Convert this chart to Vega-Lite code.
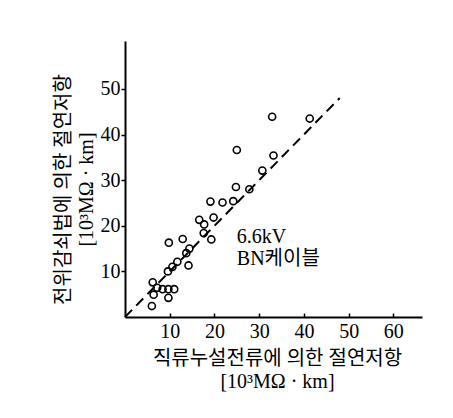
{
  "$schema": "https://vega.github.io/schema/vega-lite/v6.json",
  "width": 297,
  "height": 276,
  "autosize": {"type": "none"},
  "padding": {"left": 125, "top": 41, "right": 31, "bottom": 101},
  "background": "white",
  "config": {
    "view": {"stroke": null},
    "font": "Liberation Serif, Noto Sans CJK KR",
    "axis": {
      "grid": false,
      "domainColor": "black",
      "domainWidth": 2,
      "tickColor": "black",
      "tickWidth": 1.5,
      "labelColor": "black",
      "titleColor": "black",
      "labelFont": "Liberation Serif",
      "labelFontSize": 20,
      "titleFont": "Liberation Serif, Noto Sans CJK KR",
      "titleFontSize": 20,
      "titleFontWeight": "normal",
      "titleLineHeight": 23
    }
  },
  "datasets": {
    "pts": [
      {"dc": 6.0, "pd": 2.4},
      {"dc": 6.4, "pd": 4.9},
      {"dc": 6.2, "pd": 7.6},
      {"dc": 7.2, "pd": 6.4},
      {"dc": 8.4, "pd": 6.1},
      {"dc": 9.7, "pd": 6.1},
      {"dc": 11.0, "pd": 6.1},
      {"dc": 9.7, "pd": 4.2},
      {"dc": 9.6, "pd": 10.0},
      {"dc": 10.6, "pd": 11.0},
      {"dc": 11.7, "pd": 12.1},
      {"dc": 9.8, "pd": 16.3},
      {"dc": 12.9, "pd": 17.1},
      {"dc": 13.7, "pd": 14.0},
      {"dc": 14.4, "pd": 15.0},
      {"dc": 14.2, "pd": 11.3},
      {"dc": 16.6, "pd": 21.3},
      {"dc": 17.7, "pd": 20.3},
      {"dc": 17.6, "pd": 18.4},
      {"dc": 19.3, "pd": 17.0},
      {"dc": 19.8, "pd": 21.8},
      {"dc": 19.1, "pd": 25.3},
      {"dc": 21.8, "pd": 25.1},
      {"dc": 24.2, "pd": 25.4},
      {"dc": 24.8, "pd": 28.5},
      {"dc": 27.8, "pd": 28.0},
      {"dc": 30.7, "pd": 32.1},
      {"dc": 33.2, "pd": 35.4},
      {"dc": 25.0, "pd": 36.6},
      {"dc": 32.9, "pd": 43.9},
      {"dc": 41.3, "pd": 43.5}
    ],
    "fit": [
      {"dc": 0, "pd": 0},
      {"dc": 48, "pd": 48}
    ],
    "note": [
      {"dc": 25.0, "pd": 16.2, "label": ["6.6kV", "BN케이블"]}
    ]
  },
  "layer": [
    {
      "data": {"name": "fit"},
      "mark": {"type": "line", "color": "black", "strokeWidth": 2, "strokeDash": [10, 6], "clip": false},
      "encoding": {
        "x": {
          "field": "dc", "type": "quantitative",
          "scale": {"domain": [0, 66.4], "nice": false, "zero": false},
          "axis": {
            "values": [10, 20, 30, 40, 50, 60],
            "tickSize": -4,
            "labelPadding": 24,
            "labelBaseline": "alphabetic",
            "title": ["직류누설전류에 의한 절연저항", "[10³MΩ · km]"],
            "titleX": 152,
            "titleY": 47,
            "titleAlign": "center",
            "titleBaseline": "alphabetic",
            "titleAnchor": null
          }
        },
        "y": {
          "field": "pd", "type": "quantitative",
          "scale": {"domain": [0, 60.5], "nice": false, "zero": false},
          "axis": {
            "values": [10, 20, 30, 40, 50],
            "tickSize": 4,
            "labelPadding": 1,
            "title": ["전위감쇠법에 의한 절연저항", "[10³MΩ · km]"],
            "titleX": -56,
            "titleY": 148,
            "titleAngle": -90,
            "titleAlign": "center",
            "titleBaseline": "alphabetic",
            "titleAnchor": null
          }
        }
      }
    },
    {
      "data": {"name": "pts"},
      "mark": {"type": "point", "shape": "circle", "filled": false, "color": "black", "strokeWidth": 1.6, "size": 50, "opacity": 1},
      "encoding": {
        "x": {"field": "dc", "type": "quantitative"},
        "y": {"field": "pd", "type": "quantitative"}
      }
    },
    {
      "data": {"name": "note"},
      "mark": {"type": "text", "align": "left", "baseline": "alphabetic", "fontSize": 20, "lineHeight": 22, "color": "black", "font": "Liberation Serif, Noto Sans CJK KR"},
      "encoding": {
        "x": {"field": "dc", "type": "quantitative"},
        "y": {"field": "pd", "type": "quantitative"},
        "text": {"field": "label"}
      }
    }
  ]
}
